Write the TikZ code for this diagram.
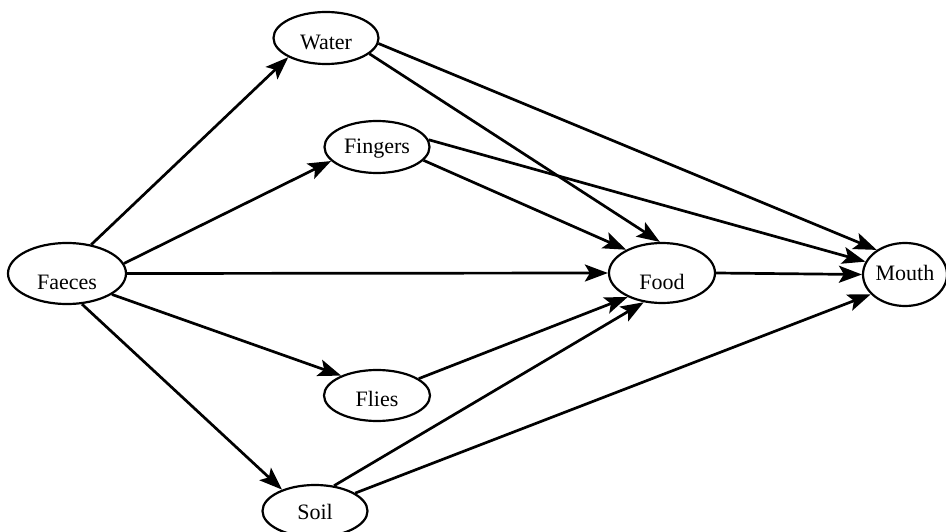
\documentclass[tikz,border=0pt]{standalone}
\usepackage{fontspec}
\setmainfont{Liberation Serif}
\usetikzlibrary{shapes.geometric,arrows.meta}
\begin{document}
\begin{tikzpicture}[x=1pt,y=-1pt,
  place/.style={ellipse, draw, line width=2.2pt, inner sep=0pt,
                minimum width=105pt, minimum height=52pt},
  lbl/.style={font=\fontsize{22}{25}\selectfont, inner sep=0pt},
  flow/.style={line width=2.7pt,
               -{Stealth[length=23pt,width=17pt,inset=5pt]}}]
\useasboundingbox (0,0) rectangle (946,532);

% stations of the transmission route
\node[place, label={[lbl,yshift=-4pt]center:Water}] (water) at (326,38) {};
\node[place, label={[lbl,yshift=-2pt]center:Fingers}] (fingers) at (377,147) {};
\node[place, minimum width=118pt, minimum height=61pt,
      label={[lbl,yshift=-8.5pt]center:Faeces}] (faeces) at (67,273.5) {};
\node[place, minimum width=106pt, minimum height=60pt,
      label={[lbl,yshift=-8.5pt]center:Food}] (food) at (662,273) {};
\node[place, minimum width=84pt, minimum height=63pt,
      label={[lbl,yshift=2pt]center:Mouth}] (mouth) at (905,274.5) {};
\node[place, minimum width=106pt, minimum height=51pt,
      label={[lbl,yshift=-3pt]center:Flies}] (flies) at (377,395.5) {};
\node[place, label={[lbl,yshift=-1pt]center:Soil}] (soil) at (315,511) {};

% routes out of the faeces
\draw[flow] (faeces.50)  -- (water.207);
\draw[flow] (faeces.10)  -- (fingers.197);
\draw[flow] (faeces.0)   -- (food.180);
\draw[flow] (faeces.-25) -- (flies.151);
\draw[flow] (faeces.-64) -- (soil.147);

% onward routes
\draw[flow] (water.-6)   -- (mouth.139);
\draw[flow] (water.-20)  -- (food.94);
\draw[flow] (fingers.8)  -- (mouth.162);
\draw[flow] (fingers.-16) -- (food.147);
\draw[flow] (food.0)     -- (mouth.180);
\draw[flow] (flies.22)   -- (food.215);
\draw[flow] (soil.53)    -- (food.238);
\draw[flow] (soil.24)    -- (mouth.210);
\end{tikzpicture}
\end{document}
